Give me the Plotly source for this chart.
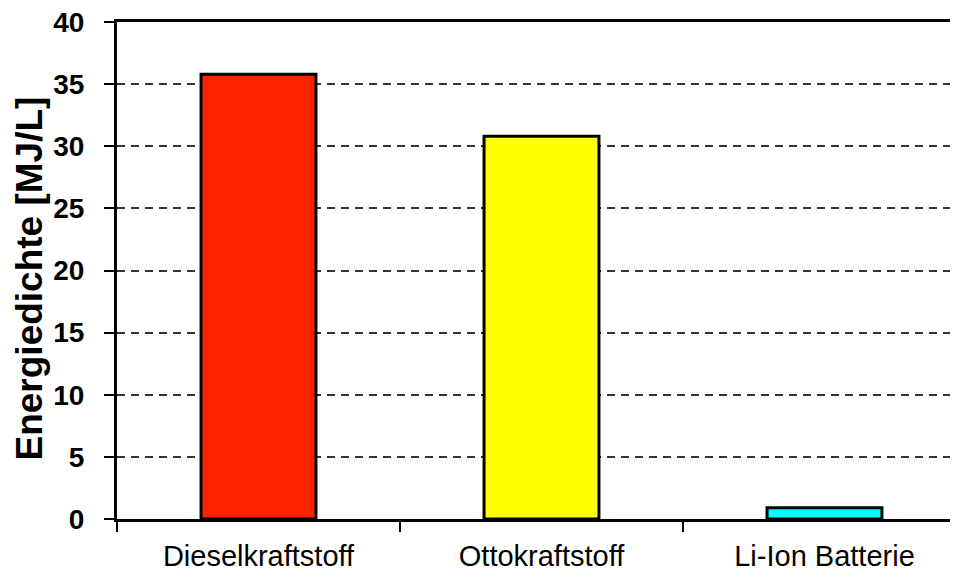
import plotly.graph_objects as go

categories = ["Dieselkraftstoff", "Ottokraftstoff", "Li-Ion Batterie"]
values = [35.8, 30.8, 0.9]
colors = ["#FF2200", "#FFFF00", "#00FFFF"]
y_tick_values = [0, 5, 10, 15, 20, 25, 30, 35, 40]
y_title = "Energiedichte [MJ/L]"

FONT = "Liberation Sans, Arial, sans-serif"

fig = go.Figure(
    go.Bar(
        x=categories,
        y=values,
        width=0.406,
        marker=dict(color=colors, line=dict(color="black", width=3)),
    )
)

fig.update_layout(
    width=958,
    height=575,
    margin=dict(l=109, r=0, t=14, b=64),
    plot_bgcolor="white",
    paper_bgcolor="white",
    showlegend=False,
    font=dict(family=FONT, color="black"),
)

fig.update_xaxes(
    range=[-0.5, 2.5],
    showline=True,
    linecolor="black",
    linewidth=3,
    mirror=True,
    ticks="outside",
    tickson="boundaries",
    ticklen=10,
    tickwidth=2,
    tickcolor="black",
    showgrid=False,
    tickfont=dict(size=29, color="black", family=FONT),
    ticklabelstandoff=9,
)

fig.update_yaxes(
    range=[0, 40],
    tickvals=y_tick_values,
    showline=True,
    linecolor="black",
    linewidth=3,
    ticks="outside",
    ticklen=10,
    tickwidth=2,
    tickcolor="black",
    showgrid=True,
    gridcolor="#333333",
    gridwidth=2,
    griddash="8px,6px",
    zeroline=False,
    tickfont=dict(size=28, color="black", family=FONT, weight="bold"),
    ticklabelstandoff=14,
    ticklabeloverflow="allow",
)

fig.add_annotation(
    text=y_title,
    textangle=-90,
    xref="paper",
    yref="paper",
    x=0,
    y=0.5,
    xanchor="center",
    yanchor="middle",
    xshift=-88,
    yshift=-8,
    showarrow=False,
    font=dict(size=37, color="black", family=FONT, weight="bold"),
)

fig.write_html("out.html")
